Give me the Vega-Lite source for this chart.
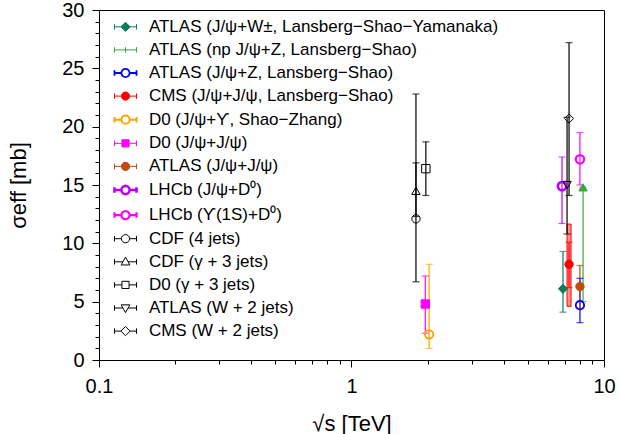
{
  "$schema": "https://vega.github.io/schema/vega-lite/v6.json",
  "width": 505,
  "height": 350,
  "autosize": {"type": "none"},
  "padding": {"left": 99, "top": 10, "right": 16, "bottom": 74},
  "config": {
    "view": {"stroke": "#000", "strokeWidth": 1},
    "font": "Liberation Sans",
    "axis": {"domain": false, "grid": false, "labelColor": "#000", "titleColor": "#000", "labelFont": "Liberation Sans", "titleFont": "Liberation Sans", "labelFontSize": 20, "titleFontSize": 22, "titleFontWeight": "normal"}
  },
  "datasets": {
    "pts": [
      {"label": "ATLAS (J/ψ+W±, Lansberg−Shao−Yamanaka)", "s": 6.88, "val": 6.1, "lo": 4.1, "hi": 9.3},
      {"label": "ATLAS (np J/ψ+Z, Lansberg−Shao)", "s": 8.26, "val": 14.8, "lo": 5.0, "hi": 14.8},
      {"label": "ATLAS (J/ψ+Z, Lansberg−Shao)", "s": 8.03, "val": 4.7, "lo": 3.2, "hi": 7.0},
      {"label": "CMS (J/ψ+J/ψ, Lansberg−Shao)", "s": 7.27, "val": 8.2, "lo": 6.2, "hi": 10.1},
      {"label": "D0 (J/ψ+ϒ, Shao−Zhang)", "s": 2.03, "val": 2.2, "lo": 1.0, "hi": 8.2},
      {"label": "D0 (J/ψ+J/ψ)", "s": 1.96, "val": 4.8, "lo": 2.3, "hi": 7.2},
      {"label": "ATLAS (J/ψ+J/ψ)", "s": 8.03, "val": 6.3, "lo": 4.4, "hi": 8.1},
      {"label": "LHCb (J/ψ+D⁰)", "s": 6.82, "val": 14.9, "lo": 11.7, "hi": 17.4},
      {"label": "LHCb (ϒ(1S)+D⁰)", "s": 8.03, "val": 17.2, "lo": 15.0, "hi": 19.5},
      {"label": "CDF (4 jets)", "s": 1.8, "val": 12.1, "lo": 6.7, "hi": 22.8},
      {"label": "CDF (γ + 3 jets)", "s": 1.8, "val": 14.5, "lo": 12.3, "hi": 16.9},
      {"label": "D0 (γ + 3 jets)", "s": 1.97, "val": 16.4, "lo": 14.1, "hi": 18.7},
      {"label": "ATLAS (W + 2 jets)", "s": 7.14, "val": 15.0, "lo": 10.8, "hi": 20.8},
      {"label": "CMS (W + 2 jets)", "s": 7.27, "val": 20.7, "lo": 14.1, "hi": 27.2}
    ],
    "box": [
      {"label": "CMS (J/ψ+J/ψ, Lansberg−Shao)", "s": 7.27, "lo": 4.6, "hi": 11.65}
    ]
  },
  "resolve": {
    "axis": {"x": "independent", "y": "independent"},
    "scale": {"shape": "independent", "stroke": "independent", "fill": "independent", "strokeWidth": "independent"}
  },
  "layer": [
    {
      "data": {"name": "box"},
      "mark": {"type": "bar", "width": 4, "fill": "#ff9090", "stroke": "#ff0000", "strokeWidth": 1},
      "encoding": {
        "x": {"field": "s", "type": "quantitative", "scale": {"type": "log", "domain": [0.1, 10], "nice": false, "padding": 0},
          "axis": {"orient": "bottom", "values": [0.1, 1, 10], "format": "~g", "ticks": true, "tickSize": 7, "tickColor": "#000", "tickWidth": 1, "labelPadding": 9, "labelFlush": false, "labelOverlap": false, "title": "√s [TeV]", "titlePadding": 17}},
        "y": {"field": "lo", "type": "quantitative", "scale": {"domain": [0, 30], "nice": false, "zero": false, "padding": 0},
          "axis": {"orient": "left", "values": [0, 5, 10, 15, 20, 25, 30], "ticks": true, "tickSize": 7, "tickColor": "#000", "tickWidth": 1, "labelPadding": 8, "labelFlush": false, "labelOverlap": false, "title": "σeff [mb]", "titlePadding": 31}},
        "y2": {"field": "hi"}
      }
    },
    {
      "data": {"name": "pts"},
      "mark": {"type": "rule", "strokeWidth": 1.2},
      "encoding": {
        "x": {"field": "s", "type": "quantitative", "scale": {"type": "log", "domain": [0.1, 10], "nice": false, "padding": 0},
          "axis": {"orient": "bottom", "values": [0.2, 0.3, 0.4, 0.5, 0.6, 0.7, 0.8, 0.9, 2, 3, 4, 5, 6, 7, 8, 9], "labels": false, "ticks": true, "tickColor": "#000", "tickWidth": 1, "tickSize": 4, "title": null}},
        "y": {"field": "lo", "type": "quantitative", "scale": {"domain": [0, 30], "nice": false, "zero": false, "padding": 0},
          "axis": {"orient": "left", "values": [1, 2, 3, 4, 6, 7, 8, 9, 11, 12, 13, 14, 16, 17, 18, 19, 21, 22, 23, 24, 26, 27, 28, 29], "labels": false, "ticks": true, "tickColor": "#000", "tickWidth": 1, "tickSize": 4, "title": null}},
        "y2": {"field": "hi"},
        "stroke": {"field": "label", "type": "nominal", "legend": null,
          "scale": {"domain": ["ATLAS (J/ψ+W±, Lansberg−Shao−Yamanaka)", "ATLAS (np J/ψ+Z, Lansberg−Shao)", "ATLAS (J/ψ+Z, Lansberg−Shao)", "CMS (J/ψ+J/ψ, Lansberg−Shao)", "D0 (J/ψ+ϒ, Shao−Zhang)", "D0 (J/ψ+J/ψ)", "ATLAS (J/ψ+J/ψ)", "LHCb (J/ψ+D⁰)", "LHCb (ϒ(1S)+D⁰)", "CDF (4 jets)", "CDF (γ + 3 jets)", "D0 (γ + 3 jets)", "ATLAS (W + 2 jets)", "CMS (W + 2 jets)"],
            "range": ["#0f7a5a", "#3aa53a", "#0000ff", "#ff0000", "#ffa500", "#ff00ff", "#c04a10", "#bb00ff", "#ff00ff", "#000000", "#000000", "#000000", "#000000", "#000000"]}}
      }
    },
    {
      "data": {"name": "pts"},
      "mark": {"type": "tick", "orient": "horizontal", "size": 7, "thickness": 1.2},
      "encoding": {
        "x": {"field": "s", "type": "quantitative", "scale": {"type": "log", "domain": [0.1, 10], "nice": false, "padding": 0}, "axis": null},
        "y": {"field": "lo", "type": "quantitative", "scale": {"domain": [0, 30], "nice": false, "zero": false, "padding": 0}, "axis": null},
        "color": {"field": "label", "type": "nominal", "legend": null,
          "scale": {"domain": ["ATLAS (J/ψ+W±, Lansberg−Shao−Yamanaka)", "ATLAS (np J/ψ+Z, Lansberg−Shao)", "ATLAS (J/ψ+Z, Lansberg−Shao)", "CMS (J/ψ+J/ψ, Lansberg−Shao)", "D0 (J/ψ+ϒ, Shao−Zhang)", "D0 (J/ψ+J/ψ)", "ATLAS (J/ψ+J/ψ)", "LHCb (J/ψ+D⁰)", "LHCb (ϒ(1S)+D⁰)", "CDF (4 jets)", "CDF (γ + 3 jets)", "D0 (γ + 3 jets)", "ATLAS (W + 2 jets)", "CMS (W + 2 jets)"],
            "range": ["#0f7a5a", "#3aa53a", "#0000ff", "#ff0000", "#ffa500", "#ff00ff", "#c04a10", "#bb00ff", "#ff00ff", "#000000", "#000000", "#000000", "#000000", "#000000"]}}
      }
    },
    {
      "data": {"name": "pts"},
      "mark": {"type": "tick", "orient": "horizontal", "size": 7, "thickness": 1.2},
      "encoding": {
        "x": {"field": "s", "type": "quantitative", "scale": {"type": "log", "domain": [0.1, 10], "nice": false, "padding": 0}, "axis": null},
        "y": {"field": "hi", "type": "quantitative", "scale": {"domain": [0, 30], "nice": false, "zero": false, "padding": 0}, "axis": null},
        "color": {"field": "label", "type": "nominal", "legend": null}
      }
    },
    {
      "data": {"name": "pts"},
      "mark": {"type": "point", "size": 70, "opacity": 1},
      "encoding": {
        "x": {"field": "s", "type": "quantitative", "scale": {"type": "log", "domain": [0.1, 10], "nice": false, "padding": 0}, "axis": null},
        "y": {"field": "val", "type": "quantitative", "scale": {"domain": [0, 30], "nice": false, "zero": false, "padding": 0}, "axis": null},
        "stroke": {"field": "label", "type": "nominal", "legend": null,
          "scale": {"domain": ["ATLAS (J/ψ+W±, Lansberg−Shao−Yamanaka)", "ATLAS (np J/ψ+Z, Lansberg−Shao)", "ATLAS (J/ψ+Z, Lansberg−Shao)", "CMS (J/ψ+J/ψ, Lansberg−Shao)", "D0 (J/ψ+ϒ, Shao−Zhang)", "D0 (J/ψ+J/ψ)", "ATLAS (J/ψ+J/ψ)", "LHCb (J/ψ+D⁰)", "LHCb (ϒ(1S)+D⁰)", "CDF (4 jets)", "CDF (γ + 3 jets)", "D0 (γ + 3 jets)", "ATLAS (W + 2 jets)", "CMS (W + 2 jets)"],
            "range": ["#0f7a5a", "#3aa53a", "#0000ff", "#ff0000", "#ffa500", "#ff00ff", "#c04a10", "#bb00ff", "#ff00ff", "#000000", "#000000", "#000000", "#000000", "#000000"]}},
        "fill": {"field": "label", "type": "nominal", "legend": null,
          "scale": {"domain": ["ATLAS (J/ψ+W±, Lansberg−Shao−Yamanaka)", "ATLAS (np J/ψ+Z, Lansberg−Shao)", "ATLAS (J/ψ+Z, Lansberg−Shao)", "CMS (J/ψ+J/ψ, Lansberg−Shao)", "D0 (J/ψ+ϒ, Shao−Zhang)", "D0 (J/ψ+J/ψ)", "ATLAS (J/ψ+J/ψ)", "LHCb (J/ψ+D⁰)", "LHCb (ϒ(1S)+D⁰)", "CDF (4 jets)", "CDF (γ + 3 jets)", "D0 (γ + 3 jets)", "ATLAS (W + 2 jets)", "CMS (W + 2 jets)"],
            "range": ["#0f7a5a", "#3aa53a", "transparent", "#ff0000", "transparent", "#ff00ff", "#c04a10", "transparent", "transparent", "transparent", "transparent", "transparent", "transparent", "transparent"]}},
        "strokeWidth": {"field": "label", "type": "ordinal", "legend": null,
          "scale": {"type": "ordinal", "domain": ["ATLAS (J/ψ+W±, Lansberg−Shao−Yamanaka)", "ATLAS (np J/ψ+Z, Lansberg−Shao)", "ATLAS (J/ψ+Z, Lansberg−Shao)", "CMS (J/ψ+J/ψ, Lansberg−Shao)", "D0 (J/ψ+ϒ, Shao−Zhang)", "D0 (J/ψ+J/ψ)", "ATLAS (J/ψ+J/ψ)", "LHCb (J/ψ+D⁰)", "LHCb (ϒ(1S)+D⁰)", "CDF (4 jets)", "CDF (γ + 3 jets)", "D0 (γ + 3 jets)", "ATLAS (W + 2 jets)", "CMS (W + 2 jets)"],
            "range": [1, 1, 1.8, 1, 2, 1, 1, 2.6, 2.2, 1, 1, 1, 1, 1]}},
        "shape": {"field": "label", "type": "nominal", "legend": null,
          "scale": {"domain": ["ATLAS (J/ψ+W±, Lansberg−Shao−Yamanaka)", "ATLAS (np J/ψ+Z, Lansberg−Shao)", "ATLAS (J/ψ+Z, Lansberg−Shao)", "CMS (J/ψ+J/ψ, Lansberg−Shao)", "D0 (J/ψ+ϒ, Shao−Zhang)", "D0 (J/ψ+J/ψ)", "ATLAS (J/ψ+J/ψ)", "LHCb (J/ψ+D⁰)", "LHCb (ϒ(1S)+D⁰)", "CDF (4 jets)", "CDF (γ + 3 jets)", "D0 (γ + 3 jets)", "ATLAS (W + 2 jets)", "CMS (W + 2 jets)"],
            "range": ["M0,-1.1L1.1,0L0,1.1L-1.1,0Z", "triangle-up", "circle", "circle", "circle", "square", "circle", "circle", "circle", "circle", "triangle-up", "square", "triangle-down", "M0,-1.1L1.1,0L0,1.1L-1.1,0Z"]}}
      }
    },
    {
      "data": {"values": []},
      "mark": {"type": "point", "opacity": 1},
      "encoding": {
        "x": {"field": "s", "type": "quantitative", "scale": {"type": "log", "domain": [0.1, 10], "nice": false, "padding": 0}, "axis": null},
        "y": {"field": "val", "type": "quantitative", "scale": {"domain": [0, 30], "nice": false, "zero": false, "padding": 0}, "axis": null},
        "stroke": {"field": "label", "type": "nominal",
          "scale": {"domain": ["ATLAS (J/ψ+W±, Lansberg−Shao−Yamanaka)", "ATLAS (np J/ψ+Z, Lansberg−Shao)", "ATLAS (J/ψ+Z, Lansberg−Shao)", "CMS (J/ψ+J/ψ, Lansberg−Shao)", "D0 (J/ψ+ϒ, Shao−Zhang)", "D0 (J/ψ+J/ψ)", "ATLAS (J/ψ+J/ψ)", "LHCb (J/ψ+D⁰)", "LHCb (ϒ(1S)+D⁰)", "CDF (4 jets)", "CDF (γ + 3 jets)", "D0 (γ + 3 jets)", "ATLAS (W + 2 jets)", "CMS (W + 2 jets)"],
            "range": ["#0f7a5a", "#3aa53a", "#0000ff", "#ff0000", "#ffa500", "#ff00ff", "#c04a10", "#bb00ff", "#ff00ff", "#000000", "#000000", "#000000", "#000000", "#000000"]}},
        "fill": {"field": "label", "type": "nominal",
          "scale": {"domain": ["ATLAS (J/ψ+W±, Lansberg−Shao−Yamanaka)", "ATLAS (np J/ψ+Z, Lansberg−Shao)", "ATLAS (J/ψ+Z, Lansberg−Shao)", "CMS (J/ψ+J/ψ, Lansberg−Shao)", "D0 (J/ψ+ϒ, Shao−Zhang)", "D0 (J/ψ+J/ψ)", "ATLAS (J/ψ+J/ψ)", "LHCb (J/ψ+D⁰)", "LHCb (ϒ(1S)+D⁰)", "CDF (4 jets)", "CDF (γ + 3 jets)", "D0 (γ + 3 jets)", "ATLAS (W + 2 jets)", "CMS (W + 2 jets)"],
            "range": ["#0f7a5a", "#3aa53a", "transparent", "#ff0000", "transparent", "#ff00ff", "#c04a10", "transparent", "transparent", "transparent", "transparent", "transparent", "transparent", "transparent"]}},
        "strokeWidth": {"field": "label", "type": "ordinal",
          "scale": {"type": "ordinal", "domain": ["ATLAS (J/ψ+W±, Lansberg−Shao−Yamanaka)", "ATLAS (np J/ψ+Z, Lansberg−Shao)", "ATLAS (J/ψ+Z, Lansberg−Shao)", "CMS (J/ψ+J/ψ, Lansberg−Shao)", "D0 (J/ψ+ϒ, Shao−Zhang)", "D0 (J/ψ+J/ψ)", "ATLAS (J/ψ+J/ψ)", "LHCb (J/ψ+D⁰)", "LHCb (ϒ(1S)+D⁰)", "CDF (4 jets)", "CDF (γ + 3 jets)", "D0 (γ + 3 jets)", "ATLAS (W + 2 jets)", "CMS (W + 2 jets)"],
            "range": [1, 1, 1.8, 1, 2, 1, 1, 2.6, 2.2, 1, 1, 1, 1, 1]}},
        "shape": {"field": "label", "type": "nominal",
          "scale": {"domain": ["ATLAS (J/ψ+W±, Lansberg−Shao−Yamanaka)", "ATLAS (np J/ψ+Z, Lansberg−Shao)", "ATLAS (J/ψ+Z, Lansberg−Shao)", "CMS (J/ψ+J/ψ, Lansberg−Shao)", "D0 (J/ψ+ϒ, Shao−Zhang)", "D0 (J/ψ+J/ψ)", "ATLAS (J/ψ+J/ψ)", "LHCb (J/ψ+D⁰)", "LHCb (ϒ(1S)+D⁰)", "CDF (4 jets)", "CDF (γ + 3 jets)", "D0 (γ + 3 jets)", "ATLAS (W + 2 jets)", "CMS (W + 2 jets)"],
            "range": [
              "M-1.29,-0.32V0.32M-1.29,0H-0.54M0.54,0H1.29M1.29,-0.32V0.32M0,-0.54L0.54,0L0,0.54L-0.54,0Z",
              "M-1.29,-0.32V0.32M-1.29,0H1.29M1.29,-0.32V0.32M0,-0.32V0.32",
              "M-1.29,-0.32V0.32M-1.29,0H-0.48M0.48,0H1.29M1.29,-0.32V0.32M-0.48,0A0.48,0.48 0 1,1 0.48,0A0.48,0.48 0 1,1 -0.48,0Z",
              "M-1.29,-0.32V0.32M-1.29,0H-0.48M0.48,0H1.29M1.29,-0.32V0.32M-0.48,0A0.48,0.48 0 1,1 0.48,0A0.48,0.48 0 1,1 -0.48,0Z",
              "M-1.29,-0.32V0.32M-1.29,0H-0.48M0.48,0H1.29M1.29,-0.32V0.32M-0.48,0A0.48,0.48 0 1,1 0.48,0A0.48,0.48 0 1,1 -0.48,0Z",
              "M-1.29,-0.32V0.32M-1.29,0H-0.42M0.42,0H1.29M1.29,-0.32V0.32M-0.42,-0.42H0.42V0.42H-0.42Z",
              "M-1.29,-0.32V0.32M-1.29,0H-0.48M0.48,0H1.29M1.29,-0.32V0.32M-0.48,0A0.48,0.48 0 1,1 0.48,0A0.48,0.48 0 1,1 -0.48,0Z",
              "M-1.29,-0.32V0.32M-1.29,0H-0.48M0.48,0H1.29M1.29,-0.32V0.32M-0.48,0A0.48,0.48 0 1,1 0.48,0A0.48,0.48 0 1,1 -0.48,0Z",
              "M-1.29,-0.32V0.32M-1.29,0H-0.48M0.48,0H1.29M1.29,-0.32V0.32M-0.48,0A0.48,0.48 0 1,1 0.48,0A0.48,0.48 0 1,1 -0.48,0Z",
              "M-1.29,-0.32V0.32M-1.29,0H-0.48M0.48,0H1.29M1.29,-0.32V0.32M-0.48,0A0.48,0.48 0 1,1 0.48,0A0.48,0.48 0 1,1 -0.48,0Z",
              "M-1.29,-0.32V0.32M-1.29,0H-0.3M0.3,0H1.29M1.29,-0.32V0.32M0,-0.54L0.51,0.37H-0.51Z",
              "M-1.29,-0.32V0.32M-1.29,0H-0.42M0.42,0H1.29M1.29,-0.32V0.32M-0.42,-0.42H0.42V0.42H-0.42Z",
              "M-1.29,-0.32V0.32M-1.29,0H-0.3M0.3,0H1.29M1.29,-0.32V0.32M0,0.54L0.51,-0.37H-0.51Z",
              "M-1.29,-0.32V0.32M-1.29,0H-0.54M0.54,0H1.29M1.29,-0.32V0.32M0,-0.54L0.54,0L0,0.54L-0.54,0Z"
            ]},
          "legend": {
            "title": null, "orient": "none", "legendX": 16.5, "legendY": 7.3,
            "labelFontSize": 17, "labelFont": "Liberation Sans", "labelColor": "#000", "labelLimit": 600,
            "symbolSize": 292, "symbolOpacity": 1, "rowPadding": 5.1, "labelOffset": 13.4
          }}
      }
    }
  ]
}
